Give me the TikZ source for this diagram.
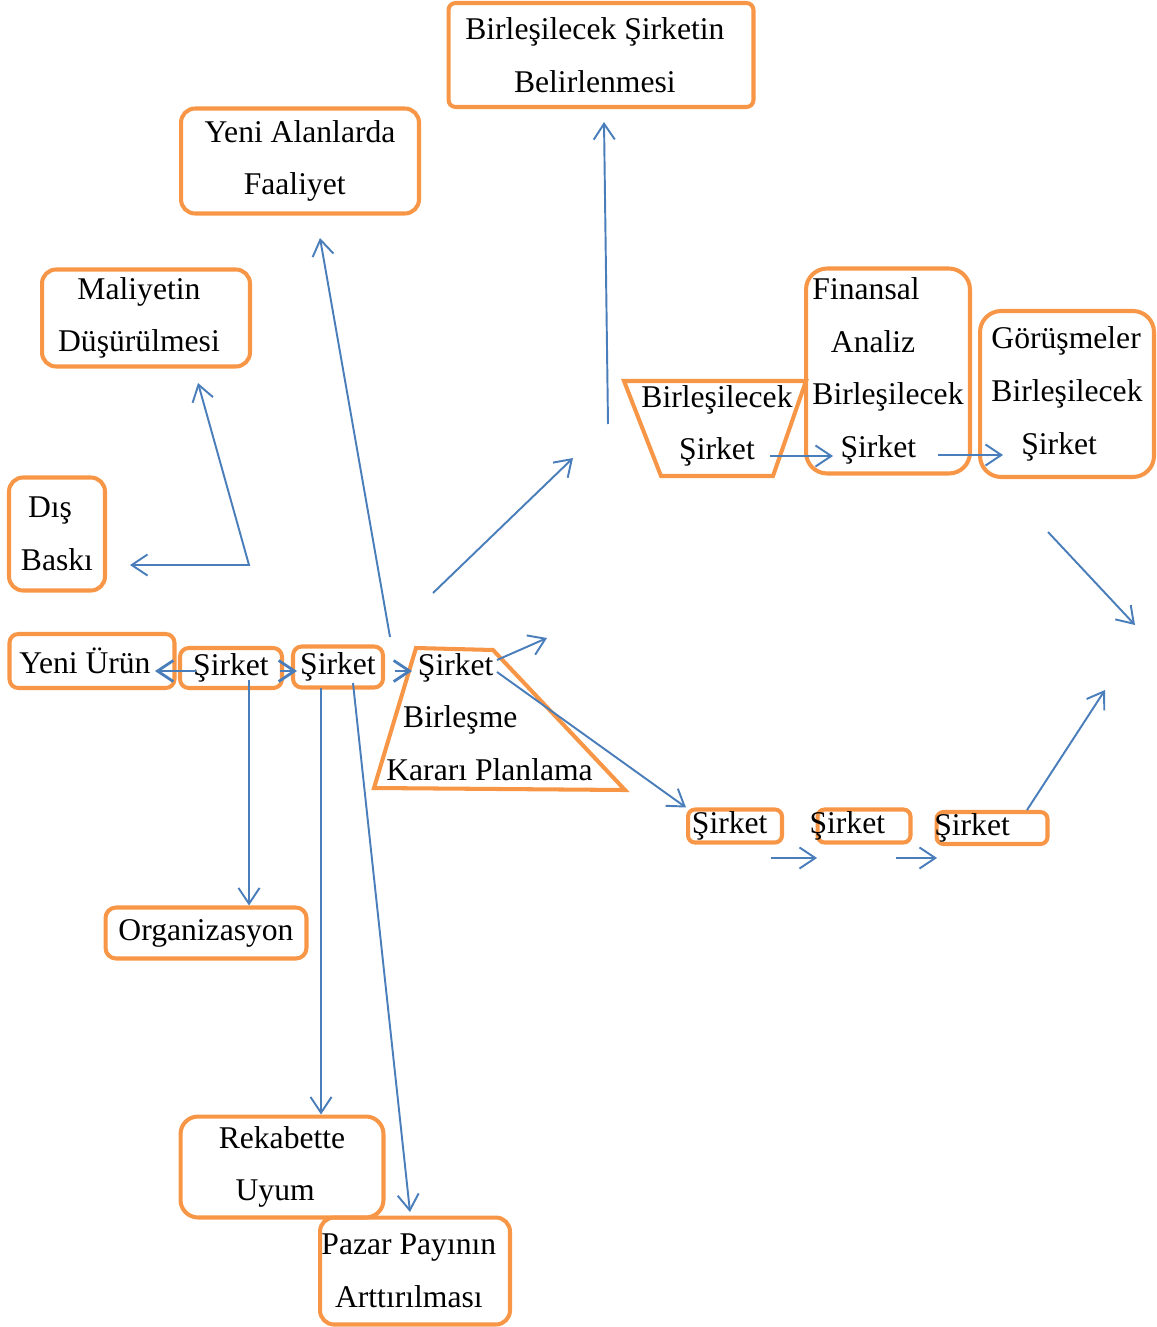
\documentclass[tikz,border=0pt]{standalone}
\usepackage{fontspec}
\setmainfont{Liberation Serif}
\usetikzlibrary{arrows.meta}
\definecolor{boxorange}{HTML}{F79646}
\definecolor{linkblue}{HTML}{4A7EBB}

\begin{document}
\begin{tikzpicture}[x=0.02cm,y=-0.02cm,>={Straight Barb[length=9pt,width=12pt]}]
\tikzset{box/.style={rectangle,draw=boxorange,line width=2.3pt,rounded corners=8pt,inner sep=0pt,align=center,font=\fontsize{18}{30}\selectfont}}
\tikzset{txt/.style={inner sep=0pt,align=center,font=\fontsize{18}{30}\selectfont}}
\tikzset{shape line/.style={draw=boxorange,line width=2.3pt}}
\tikzset{link/.style={draw=linkblue,line width=1.1pt}}
\useasboundingbox (0,0) rectangle (1156,1327);
% boxes
\node[box,rounded corners=4pt,minimum width=6.1cm,minimum height=2.08cm] (target) at (601,55) {Birleşilecek Şirketin\hspace*{7pt}\\Belirlenmesi\hspace*{7pt}};
\node[box,minimum width=4.76cm,minimum height=2.1cm] (newfield) at (300,161) {Yeni Alanlarda\\Faaliyet\hspace*{6pt}};
\node[box,minimum width=4.16cm,minimum height=1.94cm] (cost) at (146,318) {Maliyetin\hspace*{8pt}\\Düşürülmesi\hspace*{8pt}};
\node[box,align=left,minimum width=1.92cm,minimum height=2.26cm] (pressure) at (57,534) {\hspace*{4pt}Dış\\Baskı};
\node[box,rounded corners=5pt,minimum width=3.3cm,minimum height=1.08cm] (product) at (92,661) {Yeni Ürün\hspace*{8pt}};
\node[box,rounded corners=5pt,minimum width=2.04cm,minimum height=0.8cm] (firm1) at (231,668) {Şirket};
\node[box,rounded corners=5pt,minimum width=1.8cm,minimum height=0.82cm] (firm2) at (338,667) {Şirket};
\node[box,align=left,rounded corners=12pt,minimum width=3.28cm,minimum height=4.1cm] (finance) at (888,371) {Finansal\\\hspace*{10.5pt}Analiz\\Birleşilecek\\\hspace*{16pt}Şirket\hspace*{4pt}};
\node[box,align=left,rounded corners=12pt,minimum width=3.48cm,minimum height=3.32cm] (talks) at (1067,394) {Görüşmeler\\Birleşilecek\\\hspace*{17pt}Şirket\hspace*{8pt}};
\node[box,rounded corners=4pt,minimum width=1.88cm,minimum height=0.66cm] (firm3) at (735,826) {Şirket\hspace*{6pt}};
\node[box,rounded corners=4pt,minimum width=1.86cm,minimum height=0.66cm] (firm4) at (864,826) {\hspace*{-19pt}Şirket};
\node[box,rounded corners=4pt,minimum width=2.22cm,minimum height=0.64cm] (firm5) at (992,828) {\hspace*{-22.7pt}Şirket};
\node[box,rounded corners=6pt,minimum width=4.02cm,minimum height=1.02cm] (organization) at (206,933) {Organizasyon};
\node[box,align=left,rounded corners=10pt,minimum width=4.06cm,minimum height=2.02cm] (competition) at (282,1167) {Rekabette\\\hspace*{9.6pt}Uyum\hspace*{12pt}};
\node[box,minimum width=3.8cm,minimum height=2.14cm] (share) at (415,1271) {Pazar Payının\hspace*{7pt}\\Arttırılması\hspace*{7pt}};
% trapezoids
\node[txt,align=left,anchor=west] (plan) at (386,717) {\hspace*{18pt}Şirket\\\hspace*{9.6pt}Birleşme\\Kararı Planlama};
\draw[shape line] (416,648) -- (493,650) -- (625,790) -- (374,788) -- cycle;
\node[txt] (candidate) at (717,426) {Birleşilecek\\Şirket};
\draw[shape line] (624,381) -- (806,381) -- (773,476) -- (661,476) -- cycle;
% arrow ends
\coordinate (targetS) at (608,424);
\coordinate (targetE) at (604,122);
\coordinate (fieldS) at (390,637);
\coordinate (fieldE) at (320,238);
\coordinate (pressE) at (130,565);
\coordinate (bend) at (249,565);
\coordinate (costE) at (198,383);
\coordinate (upS) at (433,593);
\coordinate (upE) at (573,458);
\coordinate (smallS) at (497,660);
\coordinate (smallE) at (547,638);
\coordinate (downS) at (497,672);
\coordinate (prodS) at (196,671);
\coordinate (prodE) at (155,671);
\coordinate (f12S) at (280,671);
\coordinate (f12E) at (297,671);
\coordinate (f2hS) at (395,671);
\coordinate (f2hE) at (412,671);
\coordinate (orgS) at (249,680);
\coordinate (compS) at (321,688);
\coordinate (shareS) at (353,683);
\coordinate (shareE) at (410,1212);
\coordinate (c2fS) at (770,456);
\coordinate (c2fE) at (833,456);
\coordinate (f2tS) at (938,455);
\coordinate (f2tE) at (1003,455);
\coordinate (f34S) at (771,858);
\coordinate (f34E) at (817,858);
\coordinate (f45S) at (896,858);
\coordinate (f45E) at (937,858);
\coordinate (riseS) at (1027,810);
\coordinate (riseE) at (1105,690);
\coordinate (fallS) at (1048,532);
\coordinate (fallE) at (1135,625);
% arrows
\draw[link,->] (targetS) -- (targetE);
\draw[link,->] (fieldS) -- (fieldE);
\draw[link,<->] (pressE) -- (bend) -- (costE);
\draw[link,->] (upS) -- (upE);
\draw[link,->] (smallS) -- (smallE);
\draw[link,->] (downS) -- (firm3.north west);
\draw[link,->,line width=1.6pt] (prodS) -- (prodE);
\draw[link,->,line width=1.6pt] (f12S) -- (f12E);
\draw[link,->,line width=1.6pt] (f2hS) -- (f2hE);
\draw[link,->] (orgS) -- (orgS |- organization.north);
\draw[link,->] (compS) -- (compS |- competition.north);
\draw[link,->] (shareS) -- (shareE);
\draw[link,->] (c2fS) -- (c2fE);
\draw[link,->] (f2tS) -- (f2tE);
\draw[link,->] (f34S) -- (f34E);
\draw[link,->] (f45S) -- (f45E);
\draw[link,->] (riseS) -- (riseE);
\draw[link,->] (fallS) -- (fallE);
\end{tikzpicture}
\end{document}
